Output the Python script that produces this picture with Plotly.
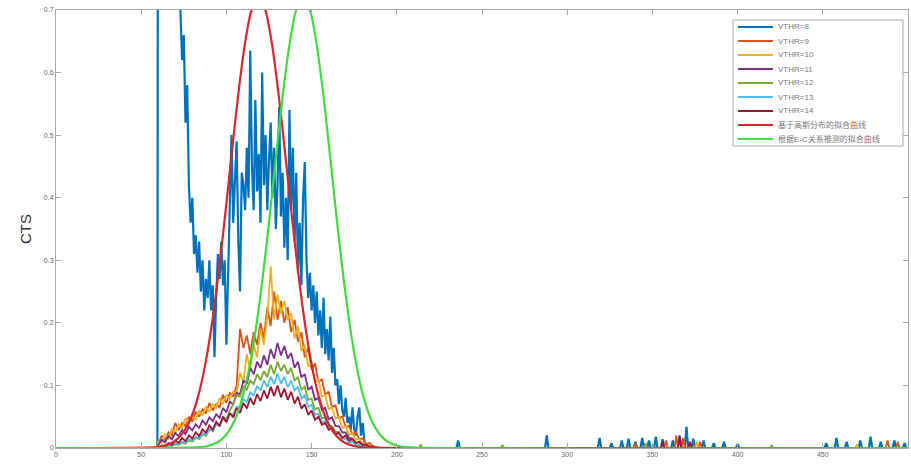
import plotly.graph_objects as go

# ---------------- data ----------------
X_MAIN = list(range(60, 192, 2))

BLUE_X = [0, 59.5] + list(range(60, 183))
BLUE_Y = [0, 0,
          1.6, 1.4, 1.3, 1.25, 1.2, 1.1, 1.05, 1.0, 0.95, 0.9,
          0.85, 0.8, 0.75, 0.70, 0.62, 0.66, 0.52, 0.58, 0.42, 0.36,
          0.40, 0.31, 0.34, 0.28, 0.33, 0.25, 0.30, 0.22, 0.27, 0.24,
          0.30, 0.22, 0.26, 0.145, 0.24, 0.31, 0.27, 0.33, 0.26, 0.30,
          0.165, 0.29, 0.40, 0.50, 0.36, 0.42, 0.49, 0.33, 0.25, 0.44,
          0.42, 0.38, 0.48, 0.40, 0.635, 0.45, 0.38, 0.556, 0.41, 0.47,
          0.36, 0.60, 0.42, 0.50, 0.38, 0.46, 0.52, 0.40, 0.48, 0.35,
          0.42, 0.545, 0.37, 0.44, 0.32, 0.40, 0.30, 0.54, 0.38, 0.48,
          0.33, 0.44, 0.28, 0.36, 0.26, 0.40, 0.457, 0.30, 0.24, 0.28,
          0.22, 0.26, 0.20, 0.25, 0.18, 0.22, 0.16, 0.24, 0.15, 0.19,
          0.14, 0.21, 0.12, 0.16, 0.10, 0.11, 0.07, 0.10, 0.06, 0.05,
          0.08, 0.04, 0.05, 0.03, 0.065, 0.03, 0.02, 0.05, 0.065, 0.02,
          0.04, 0.01, 0.0]

ORANGE_Y = [0.005, 0.02, 0.012, 0.025, 0.02, 0.04, 0.028, 0.04, 0.035, 0.05,
            0.042, 0.058, 0.05, 0.062, 0.055, 0.072, 0.06, 0.07, 0.065, 0.085,
            0.072, 0.088, 0.082, 0.10, 0.19, 0.16, 0.18, 0.15, 0.185, 0.165,
            0.20, 0.175, 0.225, 0.195, 0.25, 0.205, 0.235, 0.2, 0.225, 0.185,
            0.205, 0.17, 0.185, 0.145, 0.16, 0.125, 0.135, 0.105, 0.11, 0.085,
            0.09, 0.065, 0.068, 0.048, 0.05, 0.034, 0.035, 0.022, 0.025, 0.014,
            0.015, 0.007, 0.008, 0.003, 0.002, 0.0]
YELLOW_Y = [0.01, 0.008, 0.022, 0.016, 0.03, 0.024, 0.038, 0.032, 0.048, 0.04,
            0.052, 0.045, 0.06, 0.052, 0.066, 0.058, 0.07, 0.064, 0.08, 0.07,
            0.085, 0.078, 0.09, 0.086, 0.12, 0.105, 0.15, 0.125, 0.165, 0.145,
            0.19, 0.165, 0.21, 0.29, 0.205, 0.245, 0.215, 0.235, 0.205, 0.215,
            0.175, 0.195, 0.155, 0.165, 0.13, 0.135, 0.105, 0.11, 0.082, 0.085,
            0.062, 0.065, 0.047, 0.05, 0.032, 0.035, 0.021, 0.024, 0.013, 0.015,
            0.006, 0.008, 0.003, 0.002, 0.0, 0.0]
PURPLE_Y = [0.005, 0.013, 0.009, 0.019, 0.014, 0.024, 0.019, 0.029, 0.022, 0.034,
            0.028, 0.038, 0.032, 0.044, 0.037, 0.049, 0.043, 0.054, 0.048, 0.064,
            0.057, 0.074, 0.07, 0.088, 0.086, 0.108, 0.102, 0.128, 0.118, 0.138,
            0.128, 0.148, 0.133, 0.158, 0.143, 0.168, 0.148, 0.163, 0.143, 0.152,
            0.128, 0.138, 0.113, 0.118, 0.093, 0.098, 0.077, 0.08, 0.061, 0.064,
            0.046, 0.049, 0.035, 0.035, 0.025, 0.025, 0.016, 0.015, 0.008, 0.01,
            0.004, 0.005, 0.002, 0.0, 0.0, 0.0]
GREEN_Y = [0.0, 0.002, 0.001, 0.004, 0.003, 0.006, 0.005, 0.008, 0.007, 0.012,
           0.01, 0.016, 0.014, 0.022, 0.019, 0.03, 0.027, 0.04, 0.036, 0.05,
           0.046, 0.06, 0.07, 0.084, 0.082, 0.099, 0.093, 0.108, 0.102, 0.118,
           0.108, 0.123, 0.113, 0.133, 0.118, 0.138, 0.123, 0.133, 0.118, 0.128,
           0.108, 0.113, 0.093, 0.098, 0.077, 0.079, 0.062, 0.064, 0.047, 0.049,
           0.036, 0.035, 0.026, 0.025, 0.016, 0.015, 0.01, 0.01, 0.005, 0.006,
           0.002, 0.003, 0.0, 0.0, 0.0, 0.0]
CYAN_Y = [0.0, 0.003, 0.002, 0.005, 0.004, 0.008, 0.006, 0.01, 0.009, 0.014,
          0.012, 0.018, 0.016, 0.024, 0.021, 0.03, 0.028, 0.038, 0.035, 0.046,
          0.043, 0.055, 0.053, 0.066, 0.063, 0.078, 0.074, 0.089, 0.084, 0.099,
          0.092, 0.108, 0.097, 0.114, 0.102, 0.119, 0.103, 0.114, 0.097, 0.108,
          0.092, 0.098, 0.079, 0.084, 0.066, 0.069, 0.053, 0.055, 0.041, 0.043,
          0.031, 0.032, 0.022, 0.022, 0.015, 0.015, 0.009, 0.009, 0.005, 0.005,
          0.002, 0.002, 0.0, 0.0, 0.0, 0.0]
DARKRED_Y = [0.0, 0.004, 0.003, 0.008, 0.005, 0.012, 0.008, 0.016, 0.011, 0.02,
             0.015, 0.025, 0.019, 0.03, 0.024, 0.036, 0.029, 0.042, 0.035, 0.05,
             0.041, 0.056, 0.049, 0.064, 0.056, 0.072, 0.063, 0.08, 0.069, 0.086,
             0.075, 0.092, 0.079, 0.098, 0.083, 0.10, 0.081, 0.095, 0.077, 0.09,
             0.071, 0.082, 0.063, 0.07, 0.053, 0.06, 0.045, 0.05, 0.037, 0.04,
             0.029, 0.032, 0.022, 0.025, 0.016, 0.02, 0.012, 0.014, 0.008, 0.01,
             0.005, 0.006, 0.002, 0.002, 0.0, 0.0]

# sparse small spikes in the high-energy tail
BLUE_SPIKE_X = [236, 288, 319, 326, 332, 336, 340, 344, 348, 352, 356, 362, 366, 370,
                374, 380, 386, 392, 400, 452, 458, 464, 472, 478, 484, 492, 498]
BLUE_SPIKE_Y = [0.012, 0.02, 0.016, 0.008, 0.012, 0.015, 0.01, 0.016, 0.012, 0.018,
                0.014, 0.012, 0.02, 0.034, 0.015, 0.012, 0.008, 0.01, 0.006, 0.008,
                0.016, 0.01, 0.012, 0.018, 0.01, 0.012, 0.008]
ORANGE_SPIKE_X = [340, 358, 364, 368, 378, 488, 494]
ORANGE_SPIKE_Y = [0.008, 0.012, 0.02, 0.016, 0.01, 0.012, 0.01]
YELLOW_SPIKE_X = [376, 470]
YELLOW_SPIKE_Y = [0.01, 0.006]
GREEN_SPIKE_X = [214, 262, 346, 420]
GREEN_SPIKE_Y = [0.006, 0.005, 0.008, 0.004]
DARKRED_SPIKE_X = [356, 366, 372]
DARKRED_SPIKE_Y = [0.01, 0.018, 0.01]

# fitted curves
FIT_OFFSETS = list(range(-60, 64, 4))
FIT_VALUES = [0.0014, 0.0032, 0.0067, 0.0134, 0.0253, 0.0452, 0.0765, 0.1225,
              0.1855, 0.2658, 0.3604, 0.4624, 0.5613, 0.6446, 0.7003, 0.72,
              0.7003, 0.6446, 0.5613, 0.4624, 0.3604, 0.2658, 0.1855, 0.1225,
              0.0765, 0.0452, 0.0253, 0.0134, 0.0067, 0.0032, 0.0014]
RED_FIT_CENTER = 118.8
GREEN_FIT_CENTER = 145.0

NAMES = ["VTHR=8", "VTHR=9", "VTHR=10", "VTHR=11", "VTHR=12", "VTHR=13", "VTHR=14",
         "基于高斯分布的拟合曲线", "根据E-C关系推测的拟合曲线"]
COLORS = ["#0072BD", "#D95319", "#EDB120", "#7E2F8E", "#77AC30", "#4DBEEE", "#A2142F",
          "#D9262E", "#3FDC3F"]


def with_tail(xs, ys, sx, sy, x_end=500):
    """Prepend zero baseline, append zero baseline with the listed spikes."""
    X = [0, xs[0] - 1] + list(xs)
    Y = [0, 0] + list(ys)
    for a, b in zip(sx, sy):
        X += [a - 1, a, a + 1]
        Y += [0, b, 0]
    X.append(x_end)
    Y.append(0)
    return X, Y


series = []
bx, by = list(BLUE_X), list(BLUE_Y)
for a, b in zip(BLUE_SPIKE_X, BLUE_SPIKE_Y):
    bx += [a - 1, a, a + 1]
    by += [0, b, 0]
bx.append(500)
by.append(0)
series.append((bx, by))
series.append(with_tail(X_MAIN, ORANGE_Y, ORANGE_SPIKE_X, ORANGE_SPIKE_Y))
series.append(with_tail(X_MAIN, YELLOW_Y, YELLOW_SPIKE_X, YELLOW_SPIKE_Y))
series.append(with_tail(X_MAIN, PURPLE_Y, [], []))
series.append(with_tail(X_MAIN, GREEN_Y, GREEN_SPIKE_X, GREEN_SPIKE_Y))
series.append(with_tail(X_MAIN, CYAN_Y, [], []))
series.append(with_tail(X_MAIN, DARKRED_Y, DARKRED_SPIKE_X, DARKRED_SPIKE_Y))

fig = go.Figure()
widths = [2.2, 1.8, 1.8, 1.8, 1.8, 1.8, 1.8]
for i, (xs, ys) in enumerate(series):
    fig.add_trace(go.Scatter(x=xs, y=ys, mode="lines", name=NAMES[i], showlegend=False,
                             line=dict(color=COLORS[i], width=widths[i])))

for j, c in enumerate([RED_FIT_CENTER, GREEN_FIT_CENTER]):
    fx = [0] + [c + o for o in FIT_OFFSETS] + [500]
    fy = [0] + FIT_VALUES + [0]
    fig.add_trace(go.Scatter(x=fx, y=fy, mode="lines", name=NAMES[7 + j], showlegend=False,
                             line=dict(color=COLORS[7 + j], width=2.2, shape="spline",
                                       smoothing=0.8)))

axis_common = dict(showline=True, linecolor="#a8a8a8", linewidth=1, mirror="ticks",
                   ticks="inside", ticklen=5, tickcolor="#a8a8a8", showgrid=False,
                   zeroline=False, tickfont=dict(size=7, color="#666"))

# ---- legend drawn as box + sample lines + text (compact MATLAB-style) ----
W, H = 911, 469
ML, MR, MT, MB = 56, 3, 10, 21
PW, PH = W - ML - MR, H - MT - MB


def px_x(p):
    return (p - ML) / PW


def px_y(p):
    return (H - MB - p) / PH


shapes = [dict(type="rect", xref="paper", yref="paper",
               x0=px_x(733), x1=px_x(903), y0=px_y(146), y1=px_y(20),
               line=dict(color="#aaaaaa", width=1), fillcolor="white", layer="above")]
annotations = []
for i, name in enumerate(NAMES):
    yc = 27 + 14 * i
    shapes.append(dict(type="line", xref="paper", yref="paper",
                       x0=px_x(738), x1=px_x(773), y0=px_y(yc), y1=px_y(yc),
                       line=dict(color=COLORS[i], width=2), layer="above"))
    annotations.append(dict(xref="paper", yref="paper", x=px_x(776), y=px_y(yc),
                            text=name, showarrow=False, xanchor="left", yanchor="middle",
                            font=dict(size=8, color="#777")))

fig.update_layout(
    width=W, height=H,
    margin=dict(l=ML, r=MR, t=MT, b=MB),
    plot_bgcolor="white", paper_bgcolor="white",
    font=dict(family="Arial, Liberation Sans, Noto Sans CJK SC", size=8, color="#555"),
    xaxis=dict(range=[0, 500], tickvals=list(range(0, 501, 50)), **axis_common),
    yaxis=dict(range=[0, 0.7], tickvals=[0, 0.1, 0.2, 0.3, 0.4, 0.5, 0.6, 0.7],
               ticktext=["0", "0.1", "0.2", "0.3", "0.4", "0.5", "0.6", "0.7"],
               title=dict(text="CTS", font=dict(size=15, color="#333"), standoff=8),
               **axis_common),
    shapes=shapes,
    annotations=annotations,
    showlegend=False,
)

fig.write_html("out.html")
